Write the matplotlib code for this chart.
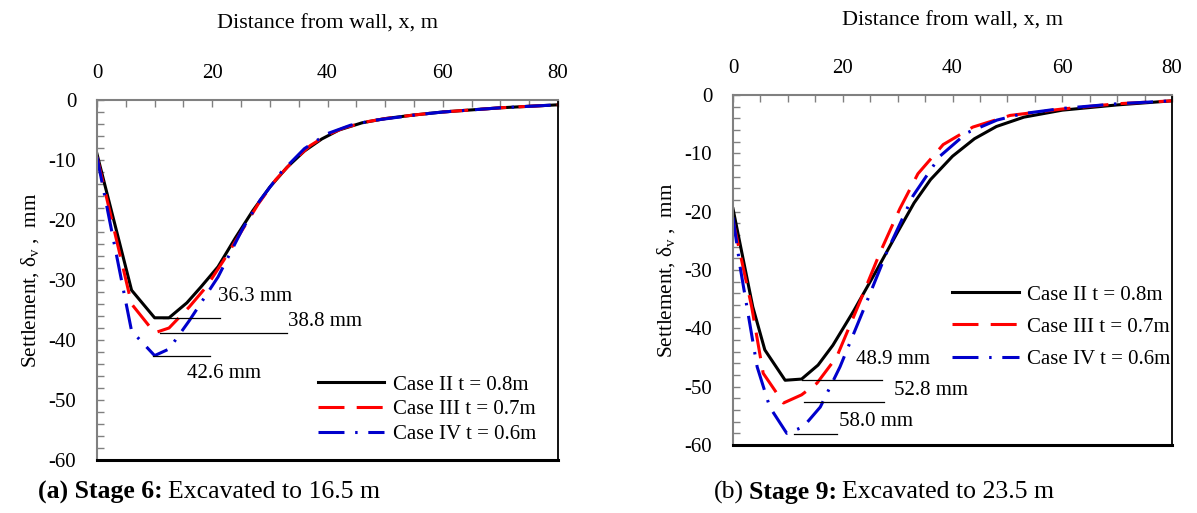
import matplotlib
matplotlib.use("Agg")
import matplotlib.pyplot as plt
from matplotlib.ticker import MultipleLocator

plt.rcParams['font.family'] = ['Liberation Serif', 'DejaVu Serif']
plt.rcParams['mathtext.fontset'] = 'custom'
plt.rcParams['mathtext.rm'] = 'Liberation Serif'
plt.rcParams['mathtext.it'] = 'Liberation Serif:italic'
plt.rcParams['mathtext.bf'] = 'Liberation Serif:bold'
plt.rcParams['axes.unicode_minus'] = False

labels = ['Case II t = 0.8m', 'Case III t = 0.7m', 'Case IV t = 0.6m']

# (a) stage 6
x6_II = [0, 6, 10, 12.5, 15.6, 18, 21, 24, 27, 30, 33, 36, 39, 42, 46, 50, 55, 60, 70, 80]
y6_II = [-9, -31.7, -36.3, -36.3, -33.8, -31.2, -27.8, -23, -18.5, -14.5, -11.2, -8.5, -6.5, -5.0, -3.8, -3.1, -2.5, -2.0, -1.3, -0.8]
x6_III = [0, 6, 10, 12.5, 16, 19, 22, 25, 28, 31, 34, 37, 40, 43, 47, 50, 55, 60, 70, 80]
y6_III = [-9.5, -34, -38.8, -38.0, -34.5, -31.1, -26.7, -22, -17.3, -13.3, -10.2, -7.6, -5.8, -4.6, -3.6, -3.1, -2.5, -2.0, -1.3, -0.8]
x6_IV = [0, 6, 10, 12.5, 16, 21, 25.3, 28.3, 32, 36, 40, 44, 48, 52, 56, 60, 70, 80]
y6_IV = [-9.5, -38.5, -42.6, -41.5, -36.8, -29.5, -21.4, -16.7, -12, -8.1, -5.6, -4.2, -3.4, -2.9, -2.4, -2.0, -1.3, -0.8]

# (b) stage 9
x9_II = [0, 3.6, 5.8, 9.5, 12.5, 15.5, 18.2, 22, 26.2, 30, 33, 36, 40, 44, 48, 53, 60, 70, 80]
y9_II = [-19.5, -36.3, -43.7, -48.9, -48.7, -46.3, -42.9, -37, -30, -23.5, -18.5, -14.5, -10.5, -7.5, -5.4, -3.8, -2.6, -1.7, -1.0]
x9_III = [0, 3.4, 5.5, 9.2, 12.5, 15.3, 18.9, 23.1, 26.8, 30.4, 33.7, 38.3, 43.7, 50.5, 60, 70, 80]
y9_III = [-21.5, -36.3, -47.7, -52.8, -51.4, -49.4, -44.9, -35.5, -27, -19.5, -13.5, -8.5, -5.5, -3.5, -2.4, -1.5, -1.0]
x9_IV = [0, 1.3, 4.4, 6.7, 9.8, 12.8, 15.9, 19.5, 23.7, 28, 32.8, 37.7, 42.6, 48.1, 52.8, 60, 70, 80]
y9_IV = [-21, -29.5, -46.6, -53.5, -58.0, -56.9, -53.5, -46.6, -37, -27, -17.3, -10.5, -6.5, -4.3, -3.2, -2.3, -1.5, -1.0]

# max settlement notes: line x0, x1, y, text x, text y, text
notes6 = [(11.5, 21.3, -36.3, 21.0, -32.7, '36.3 mm'),
          (10.9, 33.0, -38.8, 33.1, -37.0, '38.8 mm'),
          (9.7, 19.6, -42.6, 15.6, -45.5, '42.6 mm')]
notes9 = [(12.6, 27.1, -48.9, 22.5, -45.4, '48.9 mm'),
          (12.9, 27.5, -52.6, 29.4, -50.6, '52.8 mm'),
          (11.1, 19.0, -58.1, 19.3, -56.0, '58.0 mm')]

styles = [dict(color='black', lw=2.2, ls='-'),
          dict(color='#FF0000', lw=2.2, ls=(0, (8.5, 4))),
          dict(color='#0000CC', lw=2.2, ls=(0, (8.5, 3.5, 0.8, 3.5)))]

fs = 15


def draw_panel(ax, curves, notes, leg_anchor, leg_spacing, xlabelpad):
    for (x, y), st, lab in zip(curves, styles, labels):
        ax.plot(x, y, label=lab, **st)
    for x0, x1, y, tx, ty, txt in notes:
        ax.plot([x0, x1], [y, y], color='black', lw=0.9)
        ax.text(tx, ty, txt, fontsize=fs, va='center', ha='left')
    ax.set_xlim(0, 80)
    ax.set_ylim(-60, 0)
    ax.xaxis.tick_top()
    ax.xaxis.set_label_position('top')
    ax.xaxis.set_major_locator(MultipleLocator(20))
    ax.xaxis.set_minor_locator(MultipleLocator(5))
    ax.yaxis.set_major_locator(MultipleLocator(10))
    ax.yaxis.set_minor_locator(MultipleLocator(2))
    ax.tick_params(which='both', direction='in', length=5, width=1, color='#808080',
                   labelsize=fs, top=True, bottom=False, left=True, right=False)
    ax.tick_params(axis='x', which='major', pad=12.5)
    ax.tick_params(axis='y', which='major', pad=15)
    ax.set_xlabel('Distance from wall, x, m', fontsize=16, labelpad=xlabelpad)
    ax.set_ylabel(r'Settlement, $\mathrm{\delta}_{\mathrm{v}}$ ,  mm', fontsize=15.3, labelpad=5)
    for s in ['left', 'top']:
        ax.spines[s].set_color('#808080')
        ax.spines[s].set_linewidth(1.5)
    ax.spines['right'].set_color('black')
    ax.spines['right'].set_linewidth(1.3)
    ax.spines['bottom'].set_color('black')
    ax.spines['bottom'].set_linewidth(2.2)
    ax.legend(loc='upper left', bbox_to_anchor=leg_anchor, frameon=False, fontsize=fs,
              handlelength=3.2, handletextpad=0.4, labelspacing=leg_spacing,
              borderpad=0, borderaxespad=0)


def caption(fig, x_px, y_px, parts, size=18.5):
    # parts drawn one after another, bold and normal mixed
    renderer = fig.canvas.get_renderer()
    x = x_px / fig.bbox.width
    for txt, weight in parts:
        t = fig.text(x, 1 - y_px / fig.bbox.height, txt, fontsize=size,
                     fontweight=weight, ha='left', va='center')
        bb = t.get_window_extent(renderer=renderer)
        x = x + (bb.width + 5) / fig.bbox.width


fig = plt.figure(figsize=(11.97, 5.13), dpi=100)
ax1 = fig.add_axes([97 / 1197, 1 - 460 / 513, 461 / 1197, 360 / 513])
ax2 = fig.add_axes([733 / 1197, 1 - 445 / 513, 439 / 1197, 350 / 513])

draw_panel(ax1, [(x6_II, y6_II), (x6_III, y6_III), (x6_IV, y6_IV)], notes6,
           (0.479, 0.236), 0.25, 25.5)
draw_panel(ax2, [(x9_II, y9_II), (x9_III, y9_III), (x9_IV, y9_IV)], notes9,
           (0.499, 0.457), 0.6, 24)

caption(fig, 38, 492, [('(a) Stage 6:', 'bold'), ('Excavated to 16.5 m', 'normal')])
caption(fig, 714, 492, [('(b)', 'normal'), ('Stage 9:', 'bold'), ('Excavated to 23.5 m', 'normal')])

fig.savefig('out.png', dpi=100)
